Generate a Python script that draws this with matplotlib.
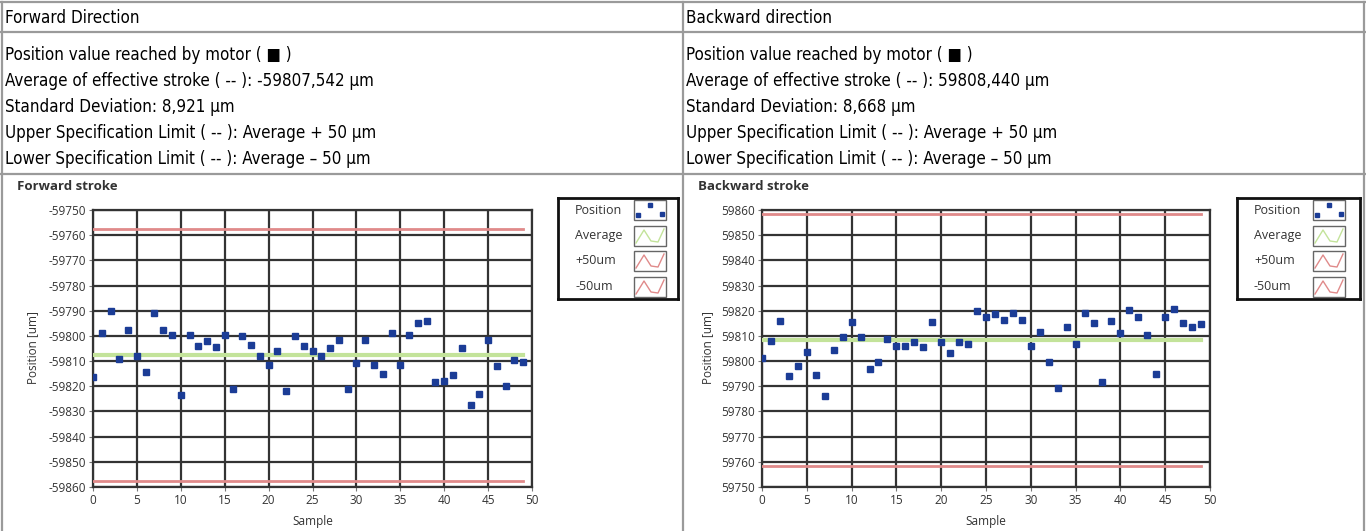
import matplotlib
matplotlib.use("Agg")
import matplotlib.pyplot as plt
from matplotlib.lines import Line2D
from matplotlib.patches import Rectangle

plt.rcParams["axes.unicode_minus"] = False

# ---- data ----
samples = list(range(50))

fwd_pos = [-59816.5, -59798.7, -59790.0, -59809.0, -59797.5, -59808.0, -59814.3, -59791.0, -59797.7, -59799.6,
           -59823.5, -59799.6, -59804.0, -59802.0, -59804.4, -59799.5, -59821.0, -59800.0, -59803.6, -59808.0,
           -59811.6, -59805.8, -59822.0, -59800.0, -59804.0, -59806.0, -59808.0, -59804.7, -59801.6, -59821.0,
           -59810.7, -59801.6, -59811.5, -59815.0, -59799.0, -59811.5, -59799.6, -59795.0, -59794.0, -59818.5,
           -59818.0, -59815.5, -59804.7, -59827.5, -59823.0, -59801.6, -59812.0, -59819.8, -59809.6, -59810.5]
bwd_pos = [59801.3, 59808.1, 59816.0, 59793.9, 59797.9, 59803.6, 59794.4, 59786.3, 59804.5, 59809.5,
           59815.7, 59809.6, 59797.0, 59799.6, 59808.8, 59806.1, 59806.1, 59807.7, 59805.7, 59815.7,
           59807.7, 59803.3, 59807.5, 59806.8, 59820.0, 59817.5, 59818.8, 59816.3, 59819.0, 59816.5,
           59806.1, 59811.6, 59799.5, 59789.5, 59813.6, 59806.9, 59818.9, 59815.3, 59791.6, 59816.0,
           59811.2, 59820.3, 59817.5, 59810.4, 59794.7, 59817.7, 59820.7, 59815.3, 59813.6, 59814.8]
fwd_avg = -59807.542
bwd_avg = 59808.440
spec_margin = 50

fwd_ylim = (-59860, -59750)
bwd_ylim = (59750, 59860)
x_ticks = list(range(0, 51, 5))

headers = ["Forward Direction", "Backward direction"]
fwd_lines = ["Position value reached by motor ( \u25a0 )",
             "Average of effective stroke ( -- ): -59807,542 \u00b5m",
             "Standard Deviation: 8,921 \u00b5m",
             "Upper Specification Limit ( -- ): Average + 50 \u00b5m",
             "Lower Specification Limit ( -- ): Average \u2013 50 \u00b5m"]
bwd_lines = ["Position value reached by motor ( \u25a0 )",
             "Average of effective stroke ( -- ): 59808,440 \u00b5m",
             "Standard Deviation: 8,668 \u00b5m",
             "Upper Specification Limit ( -- ): Average + 50 \u00b5m",
             "Lower Specification Limit ( -- ): Average \u2013 50 \u00b5m"]
legend_labels = ["Position", "Average", "+50um", "-50um"]

# ---- styling ----
W, H = 1366, 531
BLUE = "#1b3c96"
GREEN = "#c3e39a"
RED = "#e08a8a"
GRID = "#333333"
BORDER = "#9a9a9a"
TXT = "#333333"

fig = plt.figure(figsize=(W / 100, H / 100), dpi=100)
fig.patch.set_facecolor("white")


def fx(x):
    return x / W


def fy(y):
    return 1 - y / H


def hline(x0, x1, y):
    fig.add_artist(Line2D([fx(x0), fx(x1)], [fy(y), fy(y)], color=BORDER, lw=1.6))


def vline(x, y0, y1):
    fig.add_artist(Line2D([fx(x), fx(x)], [fy(y0), fy(y1)], color=BORDER, lw=1.6))


# table frame
for yy in (2, 32, 174):
    hline(1, 1365, yy)
vline(2, 2, 531)
vline(683, 2, 531)
vline(1364, 2, 531)

table_font = dict(family="DejaVu Sans", fontstretch="condensed", fontsize=12.2, color="black")
for col, x0 in enumerate((5, 686)):
    fig.text(fx(x0), fy(18), headers[col], va="center", ha="left", **table_font)
    lines = fwd_lines if col == 0 else bwd_lines
    for i, t in enumerate(lines):
        fig.text(fx(x0), fy(55 + 26 * i), t, va="center", ha="left", **table_font)


def draw_chart(px0, px1, title, ttl_x, ylab_x, pos, avg, ylim, leg_x0, leg_x1):
    ax = fig.add_axes([fx(px0), fy(487), fx(px1) - fx(px0), fy(210) - fy(487)])
    ax.set_xlim(0, 50)
    ax.set_ylim(*ylim)
    ax.set_xticks(x_ticks)
    ax.set_yticks(list(range(ylim[0], ylim[1] + 1, 10)))
    ax.grid(True, color=GRID, lw=1.6)
    ax.set_axisbelow(True)
    for s in ax.spines.values():
        s.set_color(GRID)
        s.set_linewidth(1.6)
    ax.tick_params(direction="out", length=3, width=0.8, color="#777777",
                   labelsize=8.5, labelcolor=TXT, pad=2)
    for lab in ax.get_xticklabels() + ax.get_yticklabels():
        lab.set_fontfamily("Open Sans")

    n = len(pos)
    ax.plot([0, n - 1], [avg - spec_margin] * 2, color=RED, lw=2, zorder=3)
    ax.plot([0, n - 1], [avg + spec_margin] * 2, color=RED, lw=2, zorder=3)
    ax.plot([0, n - 1], [avg, avg], color=GREEN, lw=3, zorder=3)
    ax.plot(samples, pos, ls="none", marker="s", ms=4, color=BLUE, zorder=4)

    fig.text(fx(ttl_x), fy(187), title, fontsize=9.5, fontweight="bold", color=TXT,
             family="Open Sans", va="center", ha="left")
    fig.text(fx(ylab_x), fy(348), "Position [um]", rotation=90, fontsize=8.5, color=TXT,
             family="Open Sans", va="center", ha="center")
    fig.text(fx((px0 + px1) / 2), fy(522), "Sample", fontsize=8.5, color=TXT,
             family="Open Sans", va="center", ha="center")

    # legend box
    lg = fig.add_axes([fx(leg_x0), fy(299), fx(leg_x1) - fx(leg_x0), fy(198) - fy(299)])
    lg.set_xlim(0, leg_x1 - leg_x0)
    lg.set_ylim(101, 0)
    lg.set_xticks([])
    lg.set_yticks([])
    for s in lg.spines.values():
        s.set_color("#111111")
        s.set_linewidth(2)
    row_y = [12, 38, 63, 89]
    for i, lab in enumerate(legend_labels):
        cy = row_y[i]
        lg.text(17, cy, lab, fontsize=9, color=TXT, family="Open Sans", va="center", ha="left")
        lg.add_patch(Rectangle((76, cy - 10), 32, 20, fill=False, ec="#666666", lw=1))
        if i == 0:
            lg.plot([80, 92, 104], [cy + 5, cy - 5, cy + 4], ls="none", marker="s", ms=3, color=BLUE)
        else:
            col = GREEN if i == 1 else RED
            lg.plot([78, 86, 93, 100, 106], [cy + 7, cy - 6, cy + 5, cy + 6, cy - 7], color=col, lw=1)
    return ax


draw_chart(93, 532, "Forward stroke", 17, 33, fwd_pos, fwd_avg, fwd_ylim, 558, 678)
draw_chart(762, 1210, "Backward stroke", 698, 708, bwd_pos, bwd_avg, bwd_ylim, 1237, 1360)

fig.savefig("out.png", dpi=100, facecolor="white")
